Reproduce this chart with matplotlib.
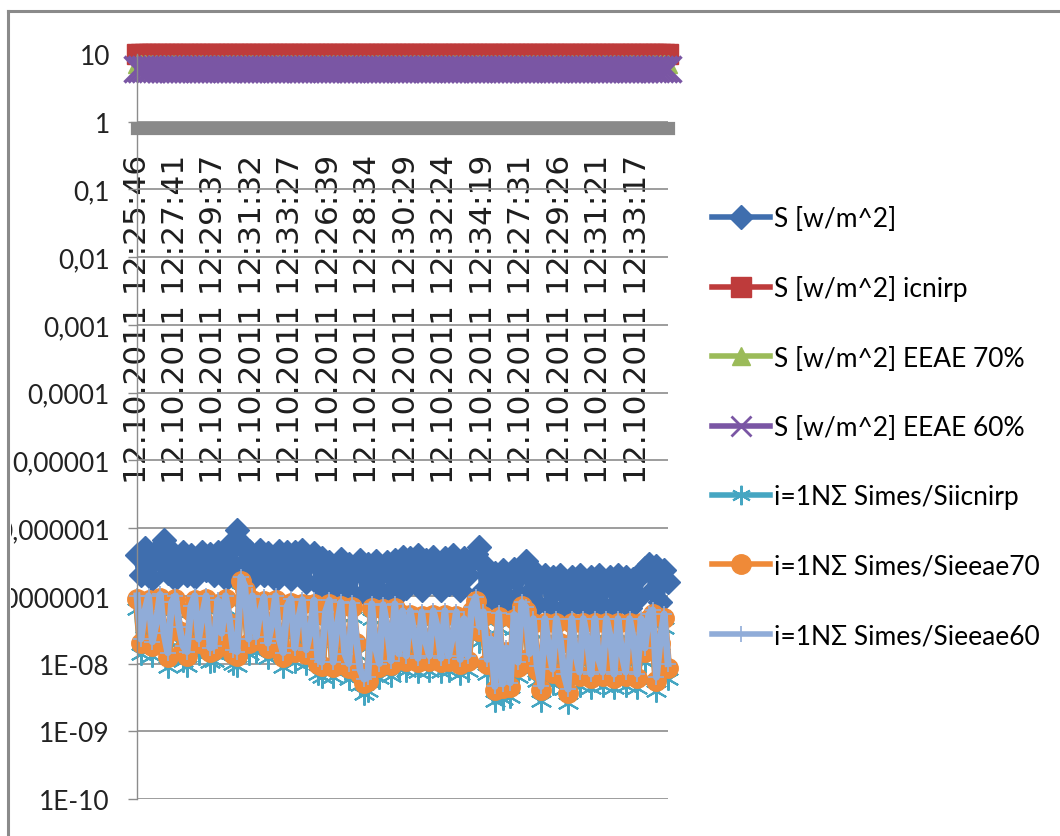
import numpy as np
import matplotlib.pyplot as plt
from matplotlib.lines import Line2D
from matplotlib.transforms import Bbox

# x axis: one label every 10 samples
tick_times = ['12.10.2011 12:25:46', '12.10.2011 12:27:41', '12.10.2011 12:29:37',
              '12.10.2011 12:31:32', '12.10.2011 12:33:27', '12.10.2011 12:26:39',
              '12.10.2011 12:28:34', '12.10.2011 12:30:29', '12.10.2011 12:32:24',
              '12.10.2011 12:34:19', '12.10.2011 12:27:31', '12.10.2011 12:29:26',
              '12.10.2011 12:31:21', '12.10.2011 12:33:17']
tick_step = 10

y_ticks = [10, 1, 0.1, 0.01, 0.001, 0.0001, 1e-5, 1e-6, 1e-7, 1e-8, 1e-9, 1e-10]
y_tick_labels = ['10', '1', '0,1', '0,01', '0,001', '0,0001', '0,00001', '0,000001',
                 '0,0000001', '1E-08', '1E-09', '1E-10']

s_measured = [
    4.0e-7, 2.0e-7, 5.0e-7, 2.8e-7, 1.8e-7, 4.6e-7, 3.4e-7, 6.6e-7, 2.2e-7, 4.4e-7,
    1.8e-7, 3.0e-7, 4.5e-7, 2.0e-7, 4.0e-7, 1.9e-7, 3.6e-7, 4.4e-7, 2.4e-7, 4.2e-7,
    2.0e-7, 4.4e-7, 2.8e-7, 1.8e-7, 5.6e-7, 3.0e-7, 9.3e-7, 6.0e-7, 2.2e-7, 4.6e-7,
    1.8e-7, 3.4e-7, 4.7e-7, 2.0e-7, 4.3e-7, 2.6e-7, 1.7e-7, 4.6e-7, 3.0e-7, 4.5e-7,
    1.8e-7, 4.4e-7, 2.4e-7, 4.7e-7, 1.6e-7, 3.2e-7, 4.3e-7, 1.5e-7, 3.6e-7, 1.2e-7,
    3.2e-7, 1.0e-7, 2.2e-7, 3.5e-7, 1.3e-7, 3.0e-7, 9.5e-8, 2.6e-7, 3.4e-7, 1.1e-7,
    3.0e-7, 1.5e-7, 3.3e-7, 9.5e-8, 2.4e-7, 3.2e-7, 1.2e-7, 3.4e-7, 1.1e-7, 3.8e-7,
    1.3e-7, 3.6e-7, 2.2e-7, 4.0e-7, 1.2e-7, 3.4e-7, 1.6e-7, 3.8e-7, 2.6e-7, 1.2e-7,
    3.6e-7, 1.5e-7, 4.0e-7, 2.2e-7, 1.2e-7, 3.6e-7, 2.0e-7, 3.4e-7, 4.2e-7, 5.2e-7,
    1.2e-7, 2.6e-7, 8.0e-8, 2.2e-7, 1.4e-7, 2.4e-7, 8.0e-8, 1.9e-7, 2.5e-7, 1.0e-7,
    2.2e-7, 3.3e-7, 1.1e-7, 2.4e-7, 7.5e-8, 1.7e-7, 2.0e-7, 7.0e-8, 1.9e-7, 1.2e-7,
    2.0e-7, 6.5e-8, 1.5e-7, 1.9e-7, 8.0e-8, 2.0e-7, 1.2e-7, 6.2e-8, 1.9e-7, 1.0e-7,
    2.0e-7, 7.0e-8, 1.4e-7, 1.9e-7, 6.5e-8, 2.0e-7, 1.1e-7, 1.9e-7, 6.5e-8, 1.8e-7,
    9.0e-8, 2.0e-7, 2.6e-7, 3.0e-7, 1.2e-7, 2.8e-7, 8.0e-8, 2.4e-7, 1.6e-7]
s_icnirp = [10.0] * len(s_measured)
s_eeae70 = [7.0] * len(s_measured)
s_eeae60 = [6.0] * len(s_measured)

ratio_icnirp = [
    6.3e-8, 1.4e-8, 3.5e-8, 6.0e-8, 1.3e-8, 2.5e-8, 6.4e-8, 1.7e-8, 8.8e-9, 4.9e-8,
    6.3e-8, 2.1e-8, 1.1e-8, 9.1e-9, 4.2e-8, 6.2e-8, 1.4e-8, 3.2e-8, 6.3e-8, 1.05e-8,
    1.1e-8, 5.3e-8, 1.7e-8, 6.3e-8, 2.8e-8, 9.8e-9, 9.1e-9, 1.15e-7, 8.4e-8, 1.4e-8,
    6.0e-8, 1.5e-8, 3.5e-8, 5.9e-8, 1.2e-8, 2.2e-8, 6.0e-8, 1.4e-8, 8.8e-9, 4.2e-8,
    5.5e-8, 1.05e-8, 2.8e-8, 5.3e-8, 9.8e-9, 1.75e-8, 5.3e-8, 7.0e-9, 6.4e-9, 3.5e-8,
    5.3e-8, 6.3e-9, 2.1e-8, 4.9e-8, 8.4e-9, 6.0e-9, 4.8e-8, 1.4e-8, 4.9e-9, 3.6e-9,
    3.9e-9, 4.6e-8, 1.05e-8, 6.2e-9, 4.5e-8, 2.1e-8, 6.6e-9, 4.6e-8, 8.4e-9, 3.6e-8,
    7.7e-9, 3.6e-8, 1.75e-8, 7.4e-9, 3.5e-8, 1.3e-8, 7.7e-9, 3.6e-8, 2.1e-8, 7.4e-9,
    3.6e-8, 7.7e-9, 1.5e-8, 3.5e-8, 7.0e-9, 2.8e-8, 7.7e-9, 4.2e-8, 5.9e-8, 2.1e-8,
    3.5e-8, 7.0e-9, 1.4e-8, 2.8e-9, 3.4e-8, 3.0e-9, 1.05e-8, 3.2e-9, 3.2e-8, 6.3e-9,
    4.9e-8, 4.2e-8, 8.4e-9, 2.8e-8, 5.6e-9, 2.8e-9, 2.8e-8, 1.05e-8, 5.0e-9, 2.8e-8,
    1.4e-8, 4.2e-9, 2.6e-9, 2.8e-8, 8.4e-9, 4.6e-9, 2.8e-8, 1.4e-8, 4.3e-9, 2.8e-8,
    7.0e-9, 4.6e-9, 2.8e-8, 1.5e-8, 4.3e-9, 2.8e-8, 8.4e-9, 4.6e-9, 2.8e-8, 1.4e-8,
    4.3e-9, 2.8e-8, 1.05e-8, 3.2e-8, 3.8e-8, 3.9e-9, 1.4e-8, 3.3e-8, 6.0e-9]
ratio_eeae70 = [
    9.0e-8, 2.0e-8, 5.0e-8, 8.6e-8, 1.8e-8, 3.5e-8, 9.2e-8, 2.4e-8, 1.25e-8, 7.0e-8,
    9.0e-8, 3.0e-8, 1.6e-8, 1.3e-8, 6.0e-8, 8.8e-8, 2.0e-8, 4.5e-8, 9.0e-8, 1.5e-8,
    1.6e-8, 7.5e-8, 2.4e-8, 9.0e-8, 4.0e-8, 1.4e-8, 1.3e-8, 1.65e-7, 1.2e-7, 2.0e-8,
    8.6e-8, 2.2e-8, 5.0e-8, 8.4e-8, 1.7e-8, 3.2e-8, 8.6e-8, 2.0e-8, 1.25e-8, 6.0e-8,
    7.8e-8, 1.5e-8, 4.0e-8, 7.6e-8, 1.4e-8, 2.5e-8, 7.5e-8, 1.0e-8, 9.2e-9, 5.0e-8,
    7.5e-8, 9.0e-9, 3.0e-8, 7.0e-8, 1.2e-8, 8.6e-9, 6.8e-8, 2.0e-8, 7.0e-9, 5.1e-9,
    5.5e-9, 6.6e-8, 1.5e-8, 8.9e-9, 6.4e-8, 3.0e-8, 9.5e-9, 6.6e-8, 1.2e-8, 5.2e-8,
    1.1e-8, 5.2e-8, 2.5e-8, 1.05e-8, 5.0e-8, 1.8e-8, 1.1e-8, 5.2e-8, 3.0e-8, 1.05e-8,
    5.2e-8, 1.1e-8, 2.2e-8, 5.0e-8, 1.0e-8, 4.0e-8, 1.1e-8, 6.0e-8, 8.4e-8, 3.0e-8,
    5.0e-8, 1.0e-8, 2.0e-8, 4.0e-9, 4.8e-8, 4.3e-9, 1.5e-8, 4.5e-9, 4.6e-8, 9.0e-9,
    7.0e-8, 6.0e-8, 1.2e-8, 4.0e-8, 8.0e-9, 4.0e-9, 4.0e-8, 1.5e-8, 7.2e-9, 4.0e-8,
    2.0e-8, 6.0e-9, 3.65e-9, 4.0e-8, 1.2e-8, 6.5e-9, 4.0e-8, 2.0e-8, 6.1e-9, 4.0e-8,
    1.0e-8, 6.5e-9, 4.0e-8, 2.2e-8, 6.1e-9, 4.0e-8, 1.2e-8, 6.5e-9, 4.0e-8, 2.0e-8,
    6.1e-9, 4.0e-8, 1.5e-8, 4.6e-8, 5.4e-8, 5.5e-9, 2.0e-8, 4.7e-8, 8.6e-9]
ratio_eeae60 = [
    1.0e-7, 2.3e-8, 5.8e-8, 1.0e-7, 2.1e-8, 4.0e-8, 1.05e-7, 2.8e-8, 1.45e-8, 8.0e-8,
    1.0e-7, 3.5e-8, 1.8e-8, 1.5e-8, 7.0e-8, 1.0e-7, 2.3e-8, 5.2e-8, 1.0e-7, 1.7e-8,
    1.8e-8, 8.6e-8, 2.8e-8, 1.0e-7, 4.6e-8, 1.6e-8, 1.5e-8, 1.9e-7, 1.4e-7, 2.3e-8,
    1.0e-7, 2.5e-8, 5.8e-8, 9.6e-8, 2.0e-8, 3.7e-8, 1.0e-7, 2.3e-8, 1.45e-8, 7.0e-8,
    9.0e-8, 1.7e-8, 4.6e-8, 8.8e-8, 1.6e-8, 2.9e-8, 8.6e-8, 1.15e-8, 1.05e-8, 5.8e-8,
    8.6e-8, 1.05e-8, 3.5e-8, 8.0e-8, 1.4e-8, 1.0e-8, 7.8e-8, 2.3e-8, 8.0e-9, 5.9e-9,
    6.3e-9, 7.6e-8, 1.7e-8, 1.0e-8, 7.4e-8, 3.5e-8, 1.1e-8, 7.6e-8, 1.4e-8, 6.0e-8,
    1.3e-8, 6.0e-8, 2.9e-8, 1.2e-8, 5.8e-8, 2.1e-8, 1.3e-8, 6.0e-8, 3.5e-8, 1.2e-8,
    6.0e-8, 1.3e-8, 2.5e-8, 5.8e-8, 1.15e-8, 4.6e-8, 1.3e-8, 6.9e-8, 9.6e-8, 3.5e-8,
    5.8e-8, 1.15e-8, 2.3e-8, 4.6e-9, 5.5e-8, 5.0e-9, 1.7e-8, 5.2e-9, 5.3e-8, 1.05e-8,
    8.0e-8, 6.9e-8, 1.4e-8, 4.6e-8, 9.2e-9, 4.6e-9, 4.6e-8, 1.7e-8, 8.3e-9, 4.6e-8,
    2.3e-8, 6.9e-9, 4.2e-9, 4.6e-8, 1.4e-8, 7.5e-9, 4.6e-8, 2.3e-8, 7.0e-9, 4.6e-8,
    1.15e-8, 7.5e-9, 4.6e-8, 2.5e-8, 7.0e-9, 4.6e-8, 1.4e-8, 7.5e-9, 4.6e-8, 2.3e-8,
    7.0e-9, 4.6e-8, 1.7e-8, 5.3e-8, 6.2e-8, 6.3e-9, 2.3e-8, 5.4e-8, 1.0e-8]

# label, values, colour, marker, marker size, marker edge width, line width
series = [
    ('S [w/m^2]', s_measured, '#3f6eae', 'D', 12, 1.0, 6),
    ('S [w/m^2] icnirp', s_icnirp, '#be3b3b', 's', 14, 1.0, 4),
    ('S [w/m^2] EEAE 70%', s_eeae70, '#9bbb59', '^', 13, 1.0, 4),
    ('S [w/m^2] EEAE 60%', s_eeae60, '#7a56a4', 'x', 19, 2.5, 4),
    ('i=1NΣ Simes/Siicnirp', ratio_icnirp, '#45a6c2', (6, 2, 0), 16, 1.5, 5),
    ('i=1NΣ Simes/Sieeae70', ratio_eeae70, '#ef8a38', 'o', 14, 1.0, 6),
    ('i=1NΣ Simes/Sieeae60', ratio_eeae60, '#90acd8', '+', 11, 1.2, 5),
]

text_fonts = ['Lato', 'DejaVu Sans']

fig = plt.figure(figsize=(10.6, 8.37), dpi=100)
ax = fig.add_axes([137 / 1060, 37 / 837, 531 / 1060, 745 / 837])

x = np.arange(len(s_measured))
handles = []
for label, values, color, marker, ms, mew, lw in series:
    ax.plot(x, values, color=color, lw=lw, marker=marker, ms=ms, mew=mew,
            mec=color, mfc=color, clip_on=False)
    # legend keys use the thinner spreadsheet line and the default marker size
    handles.append(Line2D([], [], color=color, lw=4, marker=marker, ms=min(ms, 14),
                          mew=min(mew, 2), mec=color, mfc=color, label=label))

ax.set_yscale('log')
ax.set_ylim(1e-10, 10)
ax.set_xlim(0, len(s_measured) - 1)

# category axis crosses just below 1, drawn as a thick grey bar
for side in ['top', 'right']:
    ax.spines[side].set_visible(False)
ax.spines['left'].set_color('#8c8c8c')
ax.spines['left'].set_linewidth(1)
ax.spines['bottom'].set_position(('data', 0.82))
ax.spines['bottom'].set_color('#898989')
ax.spines['bottom'].set_linewidth(9.5)

ax.set_yticks(y_ticks)
ax.set_yticklabels(y_tick_labels, fontfamily=text_fonts, fontsize=19, color='#222222')
ax.yaxis.set_minor_locator(plt.NullLocator())
ax.tick_params(axis='y', length=6.5, width=1, color='#8c8c8c', pad=13)
ax.grid(axis='y', color='#8c8c8c', lw=1.2)
ax.set_axisbelow(True)

ax.set_xticks(x[::tick_step])
ax.set_xticklabels(tick_times, rotation=90, fontfamily='DejaVu Sans', fontsize=22.5,
                   color='#1e1e1e')
ax.tick_params(axis='x', length=0, pad=19)

# the long labels are cut off at the chart frame, as in the spreadsheet
for lbl in ax.get_yticklabels():
    lbl.set_clip_box(Bbox([[11, 0], [1060, 837]]))
    lbl.set_clip_on(True)

fig.legend(handles=handles, loc='upper left', bbox_to_anchor=(712 / 1060, 1 - 207 / 837),
           frameon=False, prop={'family': text_fonts, 'size': 19}, handlelength=2.2,
           handletextpad=0.15, labelspacing=1.68, borderpad=0, borderaxespad=0)

# chart frame
fig.add_artist(Line2D([8 / 1060, 1], [1 - 12 / 837, 1 - 12 / 837], color='#8a8a8a', lw=2.2))
fig.add_artist(Line2D([8 / 1060, 8 / 1060], [0, 1 - 12 / 837], color='#8a8a8a', lw=2.2))

fig.savefig('out.png', dpi=100)
